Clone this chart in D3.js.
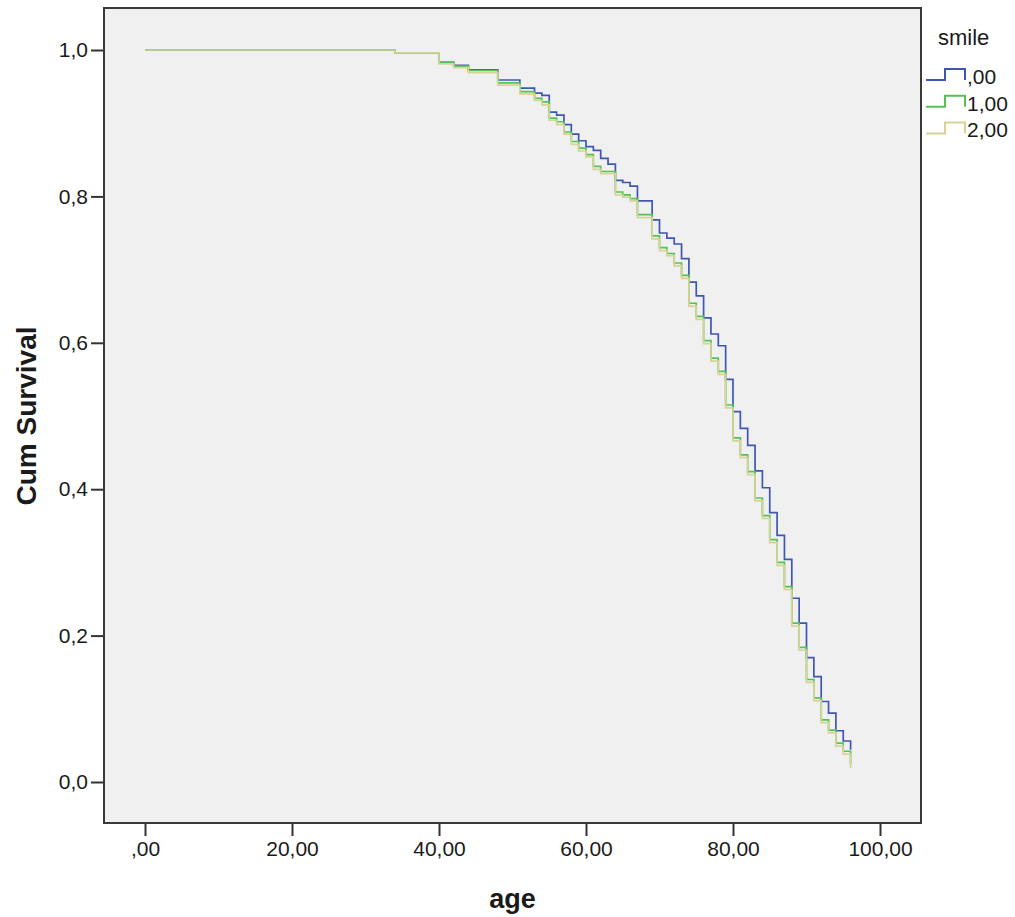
<!DOCTYPE html>
<html>
<head>
<meta charset="utf-8">
<script src="https://cdn.jsdelivr.net/npm/d3@7"></script>
<style>
  body { margin: 0; background: #fff; }
  svg text { font-family: Arial, "Liberation Sans", sans-serif; fill: #1a1a1a; }
</style>
</head>
<body>
<svg id="chart"></svg>
<script>
// survival curves, one pair of arrays per smile group
var age0  = [0, 34, 40, 42, 44, 48, 51, 53, 54, 55, 56, 57, 58, 59, 60, 61, 62, 63, 64, 65, 66, 67, 69, 70, 71, 72, 73, 74, 75, 76, 77, 78, 79, 80, 81, 82, 83, 84, 85, 86, 87, 88, 89, 90, 91, 92, 93, 94, 95, 96];
var surv0 = [1.0, 0.996, 0.983, 0.979, 0.973, 0.959, 0.948, 0.941, 0.938, 0.915, 0.911, 0.898, 0.885, 0.876, 0.868, 0.863, 0.852, 0.844, 0.822, 0.819, 0.814, 0.794, 0.768, 0.750, 0.743, 0.735, 0.715, 0.683, 0.664, 0.634, 0.612, 0.596, 0.550, 0.506, 0.483, 0.460, 0.425, 0.402, 0.368, 0.337, 0.304, 0.251, 0.217, 0.170, 0.144, 0.110, 0.094, 0.070, 0.056, 0.044];

var age1  = [0, 34, 40, 42, 44, 48, 51, 53, 54, 55, 56, 57, 58, 59, 60, 61, 62, 64, 65, 66, 67, 69, 70, 71, 72, 73, 74, 75, 76, 77, 78, 79, 80, 81, 82, 83, 84, 85, 86, 87, 88, 89, 90, 91, 92, 93, 94, 95, 96];
var surv1 = [1.0, 0.996, 0.983, 0.978, 0.972, 0.955, 0.943, 0.934, 0.929, 0.907, 0.902, 0.888, 0.875, 0.866, 0.857, 0.841, 0.834, 0.806, 0.802, 0.797, 0.775, 0.746, 0.730, 0.722, 0.709, 0.692, 0.654, 0.636, 0.603, 0.579, 0.561, 0.515, 0.470, 0.447, 0.424, 0.388, 0.364, 0.331, 0.300, 0.267, 0.217, 0.184, 0.140, 0.115, 0.085, 0.071, 0.053, 0.042, 0.024];

var age2  = [0, 34, 40, 42, 44, 48, 51, 53, 54, 55, 56, 57, 58, 59, 60, 61, 62, 64, 65, 66, 67, 69, 70, 71, 72, 73, 74, 75, 76, 77, 78, 79, 80, 81, 82, 83, 84, 85, 86, 87, 88, 89, 90, 91, 92, 93, 94, 95, 96];
var surv2 = [1.0, 0.996, 0.981, 0.976, 0.969, 0.952, 0.940, 0.931, 0.925, 0.904, 0.898, 0.885, 0.871, 0.862, 0.854, 0.837, 0.831, 0.802, 0.799, 0.794, 0.771, 0.742, 0.726, 0.719, 0.705, 0.688, 0.650, 0.632, 0.599, 0.575, 0.557, 0.511, 0.466, 0.443, 0.420, 0.384, 0.360, 0.327, 0.296, 0.263, 0.213, 0.180, 0.136, 0.111, 0.081, 0.067, 0.049, 0.038, 0.019];

var groups = [",00", "1,00", "2,00"];
var colors = ["#3f57b2", "#52c456", "#d6d394"];

var xTicks = [0, 20, 40, 60, 80, 100];
var yTicks = [0, 0.2, 0.4, 0.6, 0.8, 1.0];

var screen = {width: 1015, height: 917};
var plot = {left: 104, top: 8, right: 921, bottom: 823};
var pw = plot.right - plot.left, ph = plot.bottom - plot.top;

var svg = d3.select("#chart")
  .attr("width", screen.width)
  .attr("height", screen.height);

var xScale = d3.scaleLinear().domain([0, 100]).range([41, 776]);
var yScale = d3.scaleLinear().domain([0, 1]).range([774, 42]);

var g = svg.append("g").attr("transform", "translate(" + plot.left + "," + plot.top + ")");

g.append("rect")
  .attr("width", pw).attr("height", ph)
  .attr("fill", "#f0f0f0");

var comma = function(d, digits) { return d3.format("." + digits + "f")(d).replace(".", ","); };

var xAxis = g.append("g")
  .attr("transform", "translate(0," + ph + ")")
  .call(d3.axisBottom(xScale).tickValues(xTicks).tickSize(13).tickPadding(5)
    .tickFormat(function(d) { var s = comma(d, 2); return s.indexOf("0,") === 0 ? s.slice(1) : s; }));

var yAxis = g.append("g")
  .call(d3.axisLeft(yScale).tickValues(yTicks).tickSize(13).tickPadding(3)
    .tickFormat(function(d) { return comma(d, 1); }));

[xAxis, yAxis].forEach(function(ax) {
  ax.select(".domain").remove();
  ax.selectAll(".tick line").attr("stroke", "#333").attr("stroke-width", 2);
  ax.selectAll(".tick text").attr("font-size", "21px").attr("fill", "#1a1a1a");
});

g.append("rect")
  .attr("width", pw).attr("height", ph)
  .attr("fill", "none").attr("stroke", "#3a3a3a").attr("stroke-width", 2);

var series = [
  {ages: age0, surv: surv0},
  {ages: age1, surv: surv1},
  {ages: age2, surv: surv2}
];

var line = d3.line()
  .x(function(d) { return xScale(d[0]); })
  .y(function(d) { return yScale(d[1]); })
  .curve(d3.curveStepAfter);

series.forEach(function(s, i) {
  g.append("path")
    .datum(d3.zip(s.ages, s.surv))
    .attr("fill", "none")
    .attr("stroke", colors[i])
    .attr("stroke-width", 1.7)
    .attr("d", line);
});

// axis titles
svg.append("text")
  .attr("x", plot.left + (xScale(0) + xScale(100)) / 2)
  .attr("y", 908)
  .attr("text-anchor", "middle")
  .attr("font-size", "27px").attr("font-weight", "bold")
  .text("age");

svg.append("text")
  .attr("transform", "translate(36," + (plot.top + (yScale(0) + yScale(1)) / 2) + ") rotate(-90)")
  .attr("text-anchor", "middle")
  .attr("font-size", "28px").attr("font-weight", "bold")
  .text("Cum Survival");

// legend
var legend = svg.append("g").attr("transform", "translate(926,0)");
legend.append("text")
  .attr("x", 12).attr("y", 45)
  .attr("font-size", "22px")
  .text("smile");

groups.forEach(function(name, i) {
  var base = 80 + i * 26.7;
  legend.append("path")
    .attr("d", "M0," + base + "H19V" + (base - 11) + "H39V" + base)
    .attr("fill", "none")
    .attr("stroke", colors[i])
    .attr("stroke-width", 2);
  legend.append("text")
    .attr("x", 41).attr("y", base + 4)
    .attr("font-size", "21px")
    .text(name);
});
</script>
</body>
</html>
